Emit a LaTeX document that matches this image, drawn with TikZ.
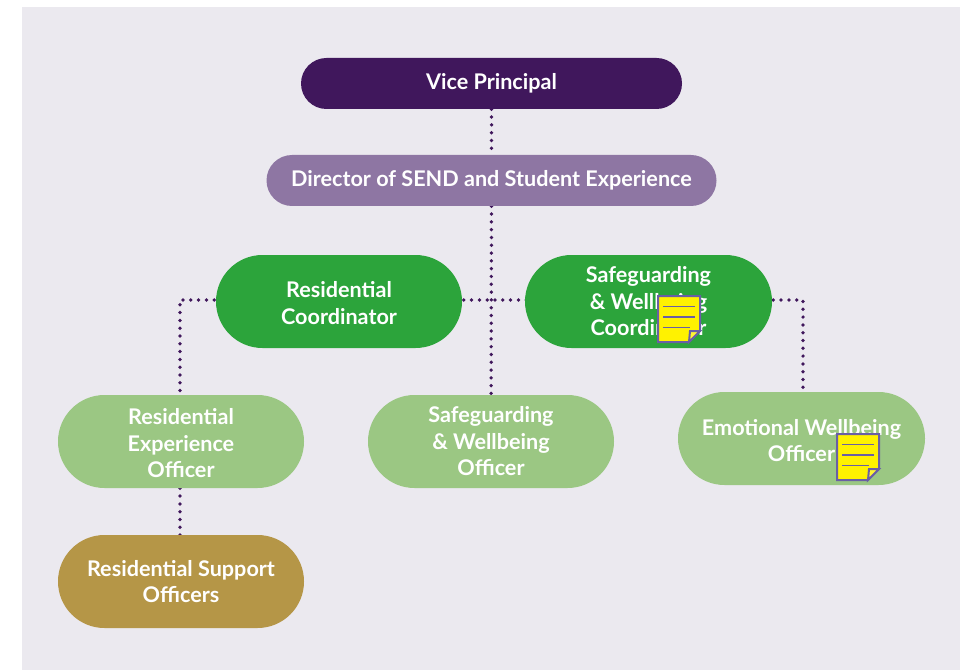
\documentclass[tikz,border=0pt]{standalone}
\usepackage{fontspec}
\setmainfont{Lato}
\usetikzlibrary{shapes.misc,backgrounds}
\definecolor{panel}{HTML}{EBE9EF}
\definecolor{vp}{HTML}{40175C}
\definecolor{dir}{HTML}{8E76A3}
\definecolor{green1}{HTML}{2CA43B}
\definecolor{green2}{HTML}{9BC783}
\definecolor{gold}{HTML}{B59647}
\definecolor{noteedge}{HTML}{6A5FA5}
\newcommand{\tallfirst}[1]{\rule{0pt}{#1}}
\tikzset{
  x=0.75pt,y=-0.75pt,
  role/.style={rounded rectangle,minimum height=#1*0.75pt,inner sep=0pt,text=white,align=center,
    font=\fontsize{16.2pt}{19.9pt}\selectfont\bfseries},
  link/.style={draw=vp,line width=2.8pt,line cap=round,dash pattern=on 0pt off 5.85pt},
  notepaper/.style={draw=noteedge,fill=yellow,line width=1.5pt,line join=miter},
  noterule/.style={draw=noteedge,line width=1.2pt},
  notefold/.style={draw=noteedge,fill=yellow!80!white,line width=1.5pt}
}
\newcommand{\stickynote}[2]{%
  \begin{scope}[shift={(#1,#2)}]
    \draw[notepaper] (0,0) -- (42,0) -- (42,35) -- (31,46) -- (0,46) -- cycle;
    \draw[notefold] (42,35) -- (32,35) -- (31,46) -- cycle;
    \draw[noterule] (5,10.5) -- (37,10.5);
    \draw[noterule] (5,21) -- (37,21);
    \draw[noterule] (5,31.5) -- (32,31.5);
  \end{scope}}
\begin{document}
\begin{tikzpicture}
\useasboundingbox (0,0) rectangle (962,670);

\coordinate (leftturn) at (180,300);
\coordinate (rightturn) at (803,300);

\path
  node[role=51,fill=vp,minimum width=381*0.75pt] (vice) at (491.5,83.5) {Vice Principal}
  node[role=51,fill=dir,minimum width=450*0.75pt] (director) at (491.5,180.5) {Director of SEND and Student Experience}
  node[role=93,fill=green1,minimum width=246*0.75pt] (rescoord) at (339,301.5) {\tallfirst{14.5pt}Residential\\Coordinator}
  node[role=93,fill=green1,minimum width=247*0.75pt] (safecoord) at (648.5,301.5) {Safeguarding\\\& Wellbeing\\Coordinator}
  node[role=93,fill=green2,minimum width=246*0.75pt] (resexp) at (181,441.5) {\tallfirst{15pt}Residential\\Experience\\Officer}
  node[role=93,fill=green2,minimum width=246*0.75pt] (safeoff) at (491,441.5) {Safeguarding\\\& Wellbeing\\Officer}
  node[role=93,fill=green2,minimum width=247*0.75pt] (emooff) at (801.5,438.5) {\tallfirst{15pt}Emotional Wellbeing\\Officer}
  node[role=93,fill=gold,minimum width=246*0.75pt] (support) at (181,581.5) {Residential Support\\Officers};

\begin{scope}[on background layer]
\fill[panel] (22,7) rectangle (960,670);
\draw[link] (vice) -- (director);
\draw[link] (director) -- (safeoff);
\draw[link] (leftturn -| rescoord) -- (leftturn -| safecoord);
\draw[link] (leftturn -| rescoord) -- (leftturn) -- (resexp.center -| leftturn);
\draw[link] (leftturn -| safecoord) -- (rightturn) -- (emooff.center -| rightturn);
\draw[link] (resexp.center -| leftturn) -- (support.center -| leftturn);
\end{scope}

\stickynote{658}{296}
\stickynote{837}{434}
\end{tikzpicture}
\end{document}
